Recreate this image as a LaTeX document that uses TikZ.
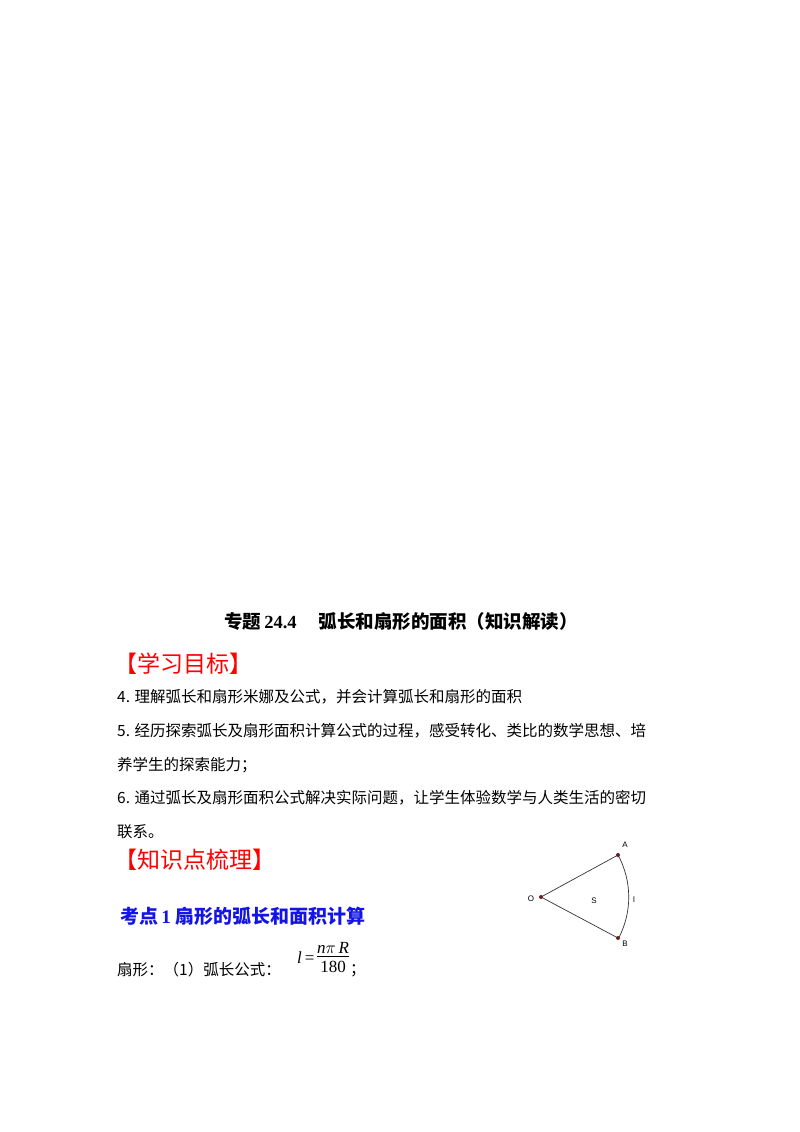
\documentclass[tikz,border=0pt]{standalone}
\usepackage{fontspec}
\setmainfont{Liberation Serif}
\newfontfamily\cjk{Noto Sans CJK SC}
\newfontfamily\cjkb{Noto Sans CJK SC Bold}
\newfontfamily\lsans{Liberation Sans}
\begin{document}
\begin{tikzpicture}[x=1pt,y=-1pt,
  body/.style={anchor=west,inner sep=0pt,font=\fontsize{15.5}{18}\selectfont\cjk},
  redh/.style={anchor=west,inner sep=0pt,text={rgb,255:red,255;green,0;blue,0},font=\fontsize{23}{26}\selectfont\cjk},
  pt/.style={circle,fill={rgb,255:red,140;green,20;blue,20},inner sep=0pt,minimum size=4pt},
  lab/.style={inner sep=0pt,font=\fontsize{8}{9}\selectfont\lsans}]
\fill[white] (0,0) rectangle (800,1132);
\node[inner sep=0pt,font=\fontsize{18.5}{21}\selectfont\bfseries] (title) at (401,621) {{\cjkb 专题}\,24.4\hspace{1.2em}{\cjkb 弧长和扇形的面积（知识解读）}};
\node[redh] (h1) at (114,664) {【学习目标】};
\node[body] (l4) at (117,697) {4. 理解弧长和扇形米娜及公式，并会计算弧长和扇形的面积};
\node[body] (l5) at (117,731) {5. 经历探索弧长及扇形面积计算公式的过程，感受转化、类比的数学思想、培};
\node[body] (l5b) at (117,765) {养学生的探索能力；};
\node[body] (l6) at (117,798) {6. 通过弧长及扇形面积公式解决实际问题，让学生体验数学与人类生活的密切};
\node[body] (l6b) at (117,832) {联系。};
\node[redh] (h2) at (114,860) {【知识点梳理】};
\node[anchor=west,inner sep=0pt,text={rgb,255:red,20;green,20;blue,230},font=\fontsize{19}{22}\selectfont\bfseries] (k1) at (120,916) {{\cjkb 考点}\,1\ {\cjkb 扇形的弧长和面积计算}};
\node[body] (f1) at (117,970) {扇形：（1）弧长公式：};
\node[anchor=west,inner sep=0pt,font=\fontsize{17}{20}\selectfont] (frm) at (297,959) {{\itshape l}\,=\,\begin{tabular}{@{}c@{}}{\itshape n}$\pi$\,{\itshape R}\\[-3pt]\hline\rule{0pt}{16pt}180\end{tabular}};
\node[body] (semi) at (350,971) {；};
\node[pt] (O) at (541,897) {};
\node[pt] (A) at (618,855) {};
\node[pt] (B) at (618,938) {};
\draw[gray!40!black,line width=0.7pt] (B.center) -- (O.center) -- (A.center) arc[start angle=-28.6,end angle=28.2,radius=88];
\node[lab] (lA) at (625,845) {A};
\node[lab] (lB) at (625,944) {B};
\node[lab] (lO) at (531,899) {O};
\node[lab] (lS) at (594,901) {S};
\node[lab] (ll) at (634,900) {l};
\end{tikzpicture}
\end{document}
